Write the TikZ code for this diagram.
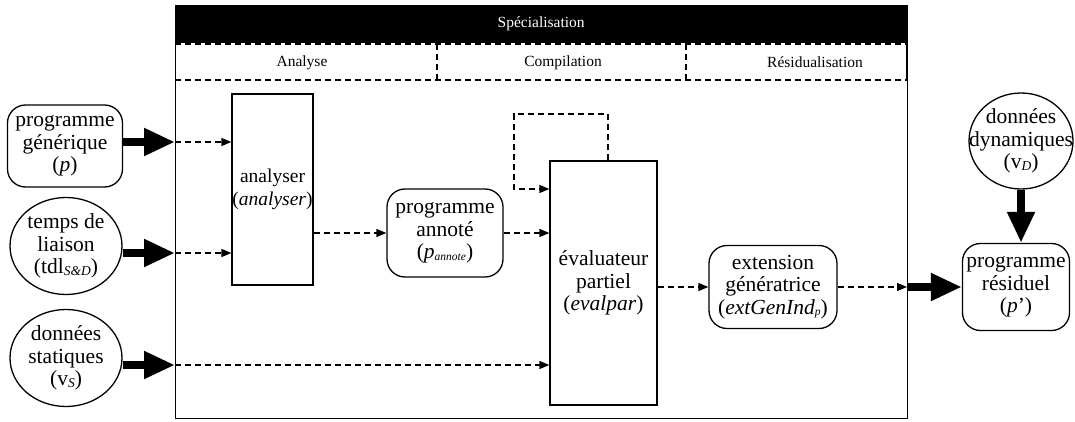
\documentclass[tikz,border=0pt]{standalone}
\usepackage{fontspec}
\setmainfont{Liberation Serif}
\usetikzlibrary{arrows.meta,shapes.geometric}
\newcommand\mysub[2][13.5]{\raisebox{-1.5pt}{\fontsize{#1}{#1}\selectfont\itshape #2}}
\begin{document}
\begin{tikzpicture}[x=1pt,y=-1pt,
  txt/.style={font=\fontsize{21.5}{22.5}\selectfont, align=center, inner sep=0pt},
  rbox/.style={txt, draw, line width=1.3pt, rounded corners=18pt},
  sbox/.style={txt, draw, line width=1.3pt},
  ell/.style={draw, ellipse, line width=1.3pt, inner sep=0pt},
  hdrtxt/.style={font=\fontsize{15.5}{16}\selectfont, inner sep=0pt},
  dline/.style={dash pattern=on 6pt off 4pt, line width=1.3pt},
  dsh/.style={dline, -{Triangle[length=10pt,width=8pt]}},
  big/.style={line width=8pt, -{Triangle[length=31pt,width=26pt]}}]
\useasboundingbox (0,0) rectangle (1075,422);

% outer box and header
\node[draw, line width=1.3pt, minimum width=732pt, minimum height=413pt, inner sep=0pt, anchor=north west] (spec) at (175,5) {};
\node[fill=black, text=white, hdrtxt, minimum width=732pt, minimum height=38pt, anchor=north west] (hdr) at (175,5) {Spécialisation};
\draw[dline] (175,44) -- (907,44);
\draw[dline] (175,80) -- (907,80);
\draw[dline] (437,44) -- (437,80);
\draw[dline] (686,44) -- (686,80);
\draw[line width=1.3pt] (907,44) -- (907,80);
\node[hdrtxt] (ph1) at (302,63) {Analyse};
\node[hdrtxt] (ph2) at (563,63) {Compilation};
\node[hdrtxt] (ph3) at (815,62) {Résidualisation};

% inputs
\node[rbox, minimum width=115pt, minimum height=82pt] (gen) at (65,146) {programme\\générique\\(\textit{p})};
\node[ell, minimum width=112pt, minimum height=97pt] (tdl) at (66,246) {};
\node[txt] (tdlT) at (tdl) {temps de\\liaison\\(tdl\mysub{S\&D})};
\node[ell, minimum width=112pt, minimum height=97pt] (vs) at (66,358) {};
\node[txt] (vsT) at (vs) {données\\statiques\\(v\mysub{S})};

% border coordinates
\coordinate (b1) at (175,142);
\coordinate (b2) at (175,253);
\coordinate (b3) at (175,365);
\coordinate (b4) at (907,287);

% inner boxes
\node[sbox, minimum width=81pt, minimum height=191pt] (ana) at (272.5,189.5) {};
\node[txt, font=\fontsize{19.5}{22.5}\selectfont] (anaT) at (ana) {analyser\\(\textit{analyser})};
\node[rbox, minimum width=116pt, minimum height=88pt] (ann) at (445,233) {programme\\annoté\\(\textit{p}\mysub[11.5]{annote})};
\node[sbox, minimum width=107pt, minimum height=244pt] (eval) at (603.5,283) {évaluateur\\partiel\\(\textit{evalpar})};
\node[rbox, minimum width=128pt, minimum height=83pt] (ext) at (773,287) {extension\\génératrice\\(\textit{extGenInd}\mysub[11.5]{p})};

% outputs
\node[rbox, minimum width=107pt, minimum height=87pt] (res) at (1016,287) {programme\\résiduel\\(\textit{p}’)};
\node[ell, minimum width=104pt, minimum height=96pt] (dyn) at (1021,141) {};
\node[txt] (dynT) at (dyn) {données\\dynamiques\\(v\mysub{D})};

% thick arrows
\draw[big] (gen.east |- b1) -- (b1);
\draw[big] (tdl.east |- b2) -- (b2);
\draw[big] (vs.east |- b3) -- (b3);
\draw[big] (b4) -- (res.west);
\draw[big] (dyn.south) -- (dyn.south |- res.north);

% dashed arrows
\draw[dsh] (b1) -- (b1 -| ana.west);
\draw[dsh] (b2) -- (b2 -| ana.west);
\draw[dsh] (b3) -- (b3 -| eval.west);
\draw[dsh] (ana.east |- ann.west) -- (ann.west);
\draw[dsh] (ann.east) -- (ann.east -| eval.west);
\coordinate (lp1) at (514,114);
\coordinate (lp2) at (514,189);
\draw[dsh] ([xshift=4.5pt]eval.north) |- (lp1) -- (lp2) -- (lp2 -| eval.west);
\draw[dsh] (eval.east |- ext.west) -- (ext.west);
\draw[dsh] (ext.east) -- (b4);
\end{tikzpicture}
\end{document}
